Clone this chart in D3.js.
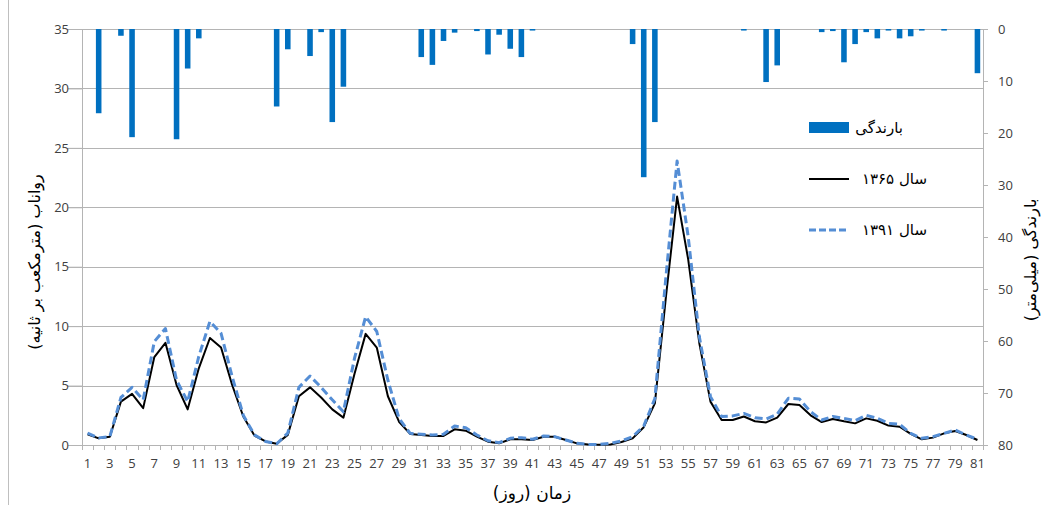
<!DOCTYPE html>
<html>
<head>
	<meta charset="utf-8">
	<title></title>
	<script src="https://d3js.org/d3.v7.min.js"></script>
	<style>
		body { margin: 0; background: #fff; }
		.tick text { font-family: "Open Sans", sans-serif; font-size: 13px; fill: #404040; }
		.fa { font-family: "DejaVu Sans", sans-serif; fill: #000; }
	</style>
</head>
<body>
	<svg width="1044" height="505"></svg>
<script type="text/javascript">

	var days = d3.range(1, 82);

	// precipitation (mm), right axis, reversed
	var rain = [0, 16.2, 0, 1.3, 20.8, 0, 0, 0, 21.2, 7.6,
		1.8, 0, 0, 0, 0, 0, 0, 14.9, 3.9, 0,
		5.2, 0.6, 17.9, 11.1, 0, 0, 0, 0, 0, 0,
		5.4, 6.9, 2.3, 0.7, 0, 0.4, 4.9, 1.1, 3.8, 5.4,
		0.3, 0, 0, 0, 0, 0, 0, 0, 0, 2.9,
		28.5, 17.9, 0, 0, 0, 0, 0, 0, 0, 0.3,
		0, 10.2, 7.0, 0, 0, 0, 0.6, 0.4, 6.4, 2.9,
		0.6, 1.8, 0.3, 1.8, 1.4, 0.3, 0, 0.3, 0, 0, 8.5];

	// runoff (m3/s)
	var flow1365 = [0.9, 0.56, 0.7, 3.65, 4.3, 3.1, 7.4, 8.6, 5.05, 3.0,
		6.45, 9.0, 8.2, 5.05, 2.4, 0.8, 0.3, 0.1, 0.85, 4.1,
		4.85, 4.0, 3.0, 2.3, 6.0, 9.35, 8.2, 4.1, 1.96, 0.93,
		0.84, 0.76, 0.76, 1.32, 1.2, 0.7, 0.28, 0.14, 0.48, 0.48,
		0.42, 0.7, 0.7, 0.42, 0.14, 0.05, 0.03, 0.05, 0.25, 0.56,
		1.5, 3.5, 12.5, 20.9, 15.6, 8.55, 3.65, 2.1, 2.1, 2.4,
		2.0, 1.9, 2.3, 3.45, 3.36, 2.5, 1.93, 2.19, 1.99, 1.82,
		2.24, 2.04, 1.63, 1.54, 0.93, 0.48, 0.62, 0.98, 1.18, 0.84, 0.42];

	var flow1391 = [1.0, 0.6, 0.7, 4.0, 4.85, 3.8, 8.7, 9.8, 5.45, 3.65,
		7.45, 10.4, 9.4, 5.75, 2.5, 0.85, 0.3, 0.1, 1.0, 4.85,
		5.8, 4.85, 3.8, 2.8, 7.3, 10.8, 9.55, 5.45, 2.24, 0.98,
		0.9, 0.84, 0.9, 1.6, 1.45, 0.84, 0.36, 0.2, 0.56, 0.62,
		0.48, 0.76, 0.7, 0.42, 0.14, 0.05, 0.05, 0.14, 0.34, 0.7,
		1.6, 3.9, 14.2, 23.9, 17.5, 9.1, 4.07, 2.4, 2.45, 2.66,
		2.3, 2.19, 2.6, 3.93, 3.87, 2.8, 2.1, 2.4, 2.24, 2.04,
		2.5, 2.24, 1.82, 1.74, 0.98, 0.56, 0.7, 0.98, 1.26, 0.84, 0.48];

	var leftTicks = [0, 5, 10, 15, 20, 25, 30, 35];
	var rightTicks = [0, 10, 20, 30, 40, 50, 60, 70, 80];
	var legendNames = ["بارندگی", "سال ۱۳۶۵", "سال ۱۳۹۱"];

	var svg = d3.select("svg"),
		margin = {top: 29, right: 61, bottom: 60, left: 82},
		width = +svg.attr("width") - margin.left - margin.right,
		height = +svg.attr("height") - margin.top - margin.bottom,
		g = svg.append("g").attr("transform", "translate(" + margin.left + "," + margin.top + ")");

	var gridCol = "#b4b4b4";

	var x = d3.scaleBand().domain(days).range([0, width]).padding(0);
	var y = d3.scaleLinear().domain([0, 35]).range([height, 0]);
	var y2 = d3.scaleLinear().domain([0, 80]).range([0, height]);

	// chart area border (left side visible)
	svg.append("line")
		.attr("x1", 8.5).attr("x2", 8.5)
		.attr("y1", 0).attr("y2", 505)
		.attr("stroke", "#bfbfbf");

	// gridlines
	g.append("g")
		.selectAll("line")
		.data(leftTicks.slice(1))
		.enter().append("line")
		.attr("x1", -14).attr("x2", width)
		.attr("y1", function(d) { return Math.round(y(d)) + 0.5; })
		.attr("y2", function(d) { return Math.round(y(d)) + 0.5; })
		.attr("stroke", gridCol);

	// left axis
	var yAxis = g.append("g")
		.call(d3.axisLeft(y).tickValues(leftTicks).tickSize(14).tickPadding(0));
	yAxis.select(".domain").attr("stroke", gridCol);
	yAxis.selectAll(".tick line").attr("stroke", gridCol);
	yAxis.selectAll(".tick text").attr("x", -13);

	// right axis
	var y2Axis = g.append("g")
		.attr("transform", "translate(" + width + ",0)")
		.call(d3.axisRight(y2).tickValues(rightTicks).tickSize(5).tickPadding(10));
	y2Axis.select(".domain").attr("stroke", gridCol);
	y2Axis.selectAll(".tick line").attr("stroke", gridCol);

	// bottom axis
	var xAxis = g.append("g")
		.attr("transform", "translate(0," + height + ")")
		.call(d3.axisBottom(x).tickValues(days.filter(function(d) { return d % 2 == 1; })).tickSize(0).tickPadding(14));
	xAxis.select(".domain").attr("stroke", gridCol);

	g.append("g")
		.selectAll("line")
		.data(d3.range(0, 82))
		.enter().append("line")
		.attr("x1", function(i) { return Math.round(i * x.step()) + 0.5; })
		.attr("x2", function(i) { return Math.round(i * x.step()) + 0.5; })
		.attr("y1", height).attr("y2", height + 5)
		.attr("stroke", gridCol);

	// precipitation bars hanging from top
	var bw = x.bandwidth() * 0.5;
	g.append("g")
		.selectAll("rect")
		.data(days)
		.enter().append("rect")
		.attr("x", function(d) { return x(d) + (x.bandwidth() - bw) / 2; })
		.attr("y", 0)
		.attr("width", bw)
		.attr("height", function(d) { return y2(rain[d - 1]); })
		.attr("fill", "#0070c0");

	var line = function(arr) {
		return d3.line()
			.x(function(d) { return x(d) + x.bandwidth() / 2; })
			.y(function(d) { return y(arr[d - 1]); })(days);
	};

	g.append("path")
		.attr("d", line(flow1365))
		.attr("fill", "none")
		.attr("stroke", "#000")
		.attr("stroke-width", 2)
		.attr("stroke-linejoin", "round");

	g.append("path")
		.attr("d", line(flow1391))
		.attr("fill", "none")
		.attr("stroke", "#558ed5")
		.attr("stroke-width", 3)
		.attr("stroke-dasharray", "8,4")
		.attr("stroke-linejoin", "round");

	// legend
	var legend = svg.append("g")
		.selectAll("g")
		.data(legendNames)
		.enter().append("g")
		.attr("transform", function(d, i) { return "translate(809," + [128, 179, 230][i] + ")"; });

	legend.each(function(d, i) {
		var s = d3.select(this);
		if (i == 0) {
			s.append("rect").attr("x", 0).attr("y", -6).attr("width", 40).attr("height", 11).attr("fill", "#0070c0");
		} else {
			s.append("line").attr("x1", 0).attr("x2", 40).attr("y1", 0).attr("y2", 0)
				.attr("stroke", i == 1 ? "#000" : "#558ed5")
				.attr("stroke-width", i == 1 ? 2 : 3)
				.attr("stroke-dasharray", i == 1 ? null : "7,3");
		}
		s.append("text")
			.attr("class", "fa")
			.attr("x", i == 0 ? 94 : 118)
			.attr("y", 0)
			.attr("dy", "0.35em")
			.attr("font-size", 15)
			.attr("text-anchor", "end")
			.text(d);
	});

	// axis titles
	svg.append("text")
		.attr("class", "fa")
		.attr("font-size", 16)
		.attr("text-anchor", "middle")
		.attr("transform", "translate(34,262) rotate(-90)")
		.attr("dy", "0.35em")
		.text("رواناب (مترمکعب بر ثانیه)");

	svg.append("text")
		.attr("class", "fa")
		.attr("font-size", 16)
		.attr("text-anchor", "middle")
		.attr("transform", "translate(1030,260) rotate(-90)")
		.attr("dy", "0.35em")
		.text("بارندگی (میلی‌متر)");

	svg.append("text")
		.attr("class", "fa")
		.attr("font-size", 17)
		.attr("text-anchor", "middle")
		.attr("x", 532)
		.attr("y", 493)
		.attr("dy", "0.35em")
		.text("زمان (روز)");

</script>
</body>
</html>
